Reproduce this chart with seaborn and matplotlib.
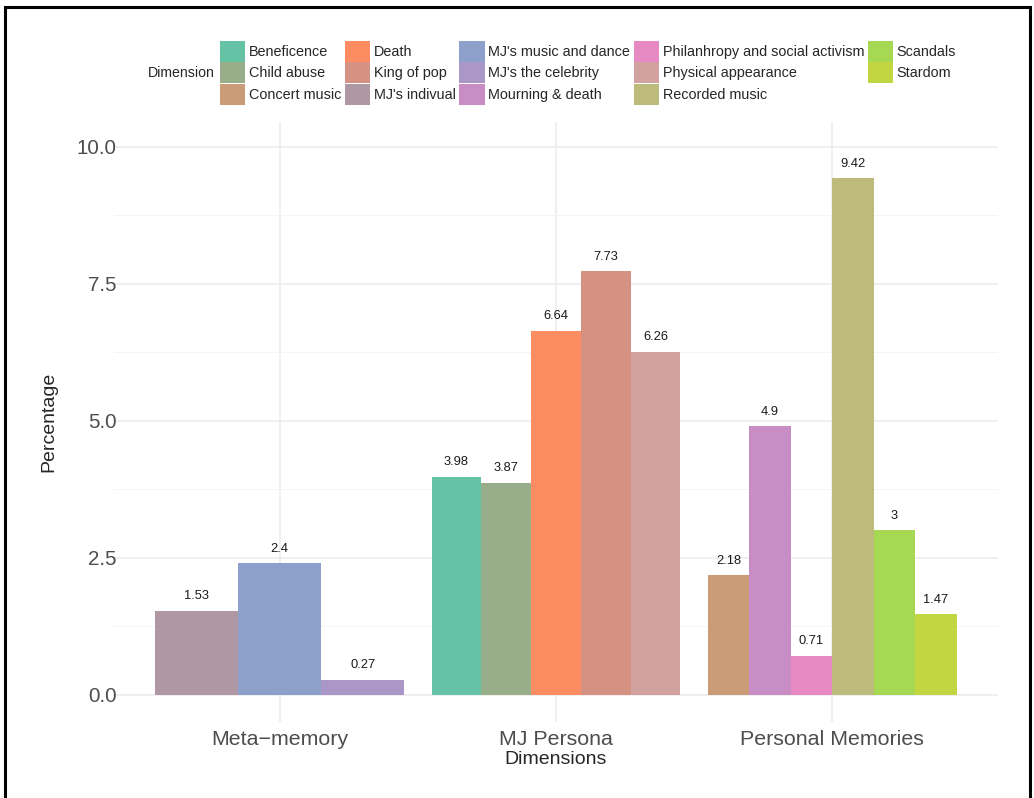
import numpy as np
import pandas as pd
import seaborn as sns
import matplotlib.pyplot as plt
from matplotlib.patches import Patch, Rectangle
from matplotlib.ticker import MultipleLocator

# data
groups = ["Meta\u2212memory", "MJ Persona", "Personal Memories"]

meta_dims = ["MJ's indivual", "MJ's music and dance", "MJ's the celebrity"]
meta_vals = [1.53, 2.40, 0.27]

persona_dims = ["Beneficence", "Child abuse", "Death", "King of pop", "Physical appearance"]
persona_vals = [3.98, 3.87, 6.64, 7.73, 6.26]

personal_dims = ["Concert music", "Mourning & death", "Philanhropy and social activism",
                 "Recorded music", "Scandals", "Stardom"]
personal_vals = [2.18, 4.90, 0.71, 9.42, 3.00, 1.47]

legend_order = ["Beneficence", "Child abuse", "Concert music", "Death", "King of pop",
                "MJ's indivual", "MJ's music and dance", "MJ's the celebrity",
                "Mourning & death", "Philanhropy and social activism",
                "Physical appearance", "Recorded music", "Scandals", "Stardom"]
legend_colors = ["#66C2A5", "#98AE8A", "#C99B76", "#FC8D62", "#D59181",
                 "#AF97A3", "#8DA0CB", "#AA97C8", "#C98DC6", "#E78AC3",
                 "#D1A29F", "#BDBB7B", "#A6D854", "#C2D642"]
pal = dict(zip(legend_order, legend_colors))

sns.set_style("white")
plt.rcParams['font.family'] = ['Liberation Sans', 'DejaVu Sans']

fig = plt.figure(figsize=(10.34, 7.98), dpi=100)
ax = fig.add_axes([114 / 1034, 76 / 798, 884 / 1034, 600 / 798])

for g, dims, vals in [(groups[0], meta_dims, meta_vals),
                      (groups[1], persona_dims, persona_vals),
                      (groups[2], personal_dims, personal_vals)]:
    sub = pd.DataFrame({"Group": g, "Dimension": dims, "Percentage": vals})
    sns.barplot(data=sub, x="Group", y="Percentage", hue="Dimension",
                order=groups, hue_order=dims, palette=pal, width=0.9,
                saturation=1, errorbar=None, legend=False, ax=ax, zorder=2,
                linewidth=0, edgecolor="none")

for c in ax.containers:
    ax.bar_label(c, fmt="%g", padding=6, fontsize=9.3, color="#1A1A1A")

ax.set_xlim(-0.6, 2.6)
ax.set_ylim(-0.5, 10.45)
ax.set_yticks([0, 2.5, 5, 7.5, 10])
ax.set_yticklabels(["0.0", "2.5", "5.0", "7.5", "10.0"])
ax.yaxis.set_minor_locator(MultipleLocator(1.25))
ax.grid(which="major", axis="both", color="#EBEBEB", lw=1.1, zorder=0)
ax.grid(which="minor", axis="y", color="#F4F4F4", lw=0.7, zorder=0)
ax.set_axisbelow(True)
for s in ax.spines.values():
    s.set_visible(False)
ax.tick_params(axis="both", length=0)
ax.tick_params(axis="y", labelsize=14.8, labelcolor="#4D4D4D", pad=-2)
ax.tick_params(axis="x", labelsize=15.4, labelcolor="#4D4D4D", pad=6)
ax.set_xlabel("Dimensions", fontsize=14, labelpad=1)
ax.set_ylabel("Percentage", fontsize=14, labelpad=14)

# legend on top, title at its left
handles = [Patch(facecolor=pal[d], edgecolor="none") for d in legend_order]
fig.legend(handles, legend_order, loc="upper left", ncol=5,
           bbox_to_anchor=(220 / 1034, 1 - 41 / 798), frameon=False,
           fontsize=10.4, handlelength=1.75, handleheight=1.85,
           handletextpad=0.25, columnspacing=0.25, labelspacing=0.03,
           borderpad=0, borderaxespad=0)
fig.text(148 / 1034, 1 - 73 / 798, "Dimension", fontsize=10.2, va="center", ha="left")

fig.patches.append(Rectangle((5 / 1034, -0.02), 1025 / 1034, 1 - 7 / 798 + 0.02,
                             transform=fig.transFigure, fill=False,
                             edgecolor="black", lw=2.2))

fig.savefig("out.png", dpi=100)
